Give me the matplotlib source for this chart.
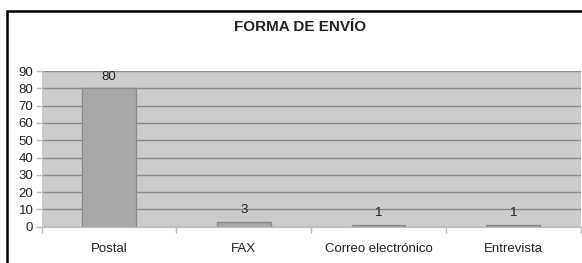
import matplotlib
matplotlib.use("Agg")
import matplotlib.pyplot as plt
from matplotlib.patches import Rectangle

categories = ["Postal", "FAX", "Correo electrónico", "Entrevista"]
values = [80, 3, 1, 1]
y_ticks = [0, 10, 20, 30, 40, 50, 60, 70, 80, 90]

plt.rcParams["font.family"] = ["Liberation Sans", "DejaVu Sans"]

fig = plt.figure(figsize=(5.82, 2.63), dpi=100)
ax = fig.add_axes([0.0716, 0.138, 0.926, 0.592])

ax.set_facecolor("#cccccc")
ax.set_ylim(0, 90)
ax.set_xlim(-0.5, len(categories) - 0.5)
ax.set_yticks(y_ticks)
ax.yaxis.grid(True, color="#8c8c8c", linewidth=1.0)
ax.set_axisbelow(True)

x = range(len(categories))
bars = ax.bar(x, values, width=0.4, color="#a8a8a8", edgecolor="#8a8a8a", linewidth=1.0)
for b, v in zip(bars, values):
    ax.annotate(str(v), (b.get_x() + b.get_width() / 2, v), xytext=(0, 4),
                textcoords="offset points", ha="center", va="bottom", fontsize=9.5, color="#222222")

# category labels centred, ticks on boundaries
ax.set_xticks(list(x))
ax.set_xticklabels(categories, fontsize=9.5, color="#222222")
ax.tick_params(axis="x", length=0, pad=12)
ax.set_xticks([i - 0.5 for i in range(len(categories) + 1)], minor=True)
ax.tick_params(axis="x", which="minor", length=4, color="#bbbbbb", width=1)
ax.tick_params(axis="y", length=4, color="#bbbbbb", width=1, labelsize=9.5, labelcolor="#222222", pad=2)

for s in ["top", "right"]:
    ax.spines[s].set_visible(False)
ax.spines["left"].set_color("#c8c8c8")
ax.spines["bottom"].set_color("#bdbdbd")

fig.text(0.516, 0.898, "FORMA DE ENVÍO", ha="center", va="center", fontsize=11, fontweight="bold", color="#222222")

# black frame around the chart (right and bottom edges fall outside the picture)
fig.patches.append(Rectangle((6.5 / 582, -0.1), 1.2, (263 - 11) / 263 + 0.1, transform=fig.transFigure,
                             fill=False, edgecolor="black", linewidth=1.8))

fig.savefig("out.png", dpi=100)
